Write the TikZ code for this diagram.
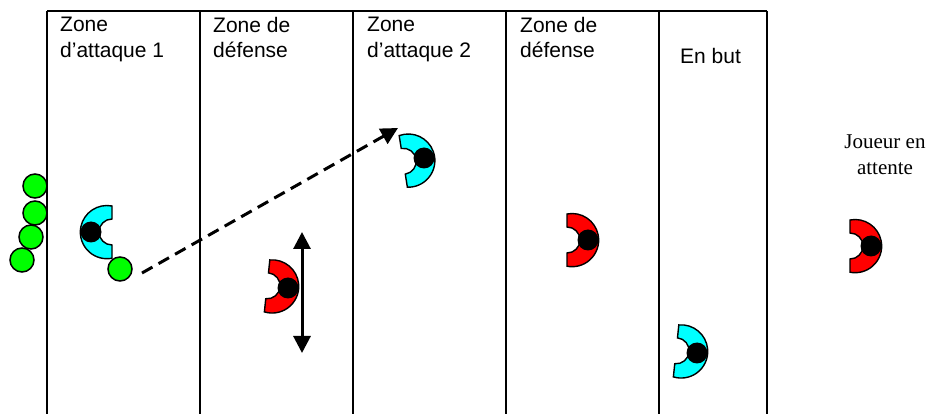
\documentclass[tikz,border=0pt]{standalone}
\usepackage{fontspec}
\setmainfont{Liberation Sans}
\newfontfamily\attente{Liberation Serif}
\usepackage{xcolor}
\usetikzlibrary{arrows.meta}
\definecolor{vert}{RGB}{0,255,0}
\definecolor{bleu}{RGB}{0,255,255}
\definecolor{rouge}{RGB}{255,0,0}
\tikzstyle{zone} = [anchor = north west, inner sep = 0, align = left, font = \fontsize{21}{25.5}\selectfont]
\tikzstyle{ballon} = [circle, draw, fill = vert, line width = 1.5pt, minimum size = 24pt, inner sep = 0]
\tikzstyle{tete} = [circle, fill = black, minimum size = 21pt, inner sep = 0]
\tikzstyle{bord} = [line width = 2.5pt]
\tikzstyle{passe} = [line width = 3pt, dash pattern = on 12pt off 7pt, -{Triangle[length = 17pt, width = 17pt]}]
\tikzstyle{depl} = [line width = 3pt, {Triangle[length = 17pt, width = 17pt]}-{Triangle[length = 17pt, width = 17pt]}]
\tikzset{pics/joueur/.style = {code = {
        \draw[fill = #1, line width = 1.4pt] (-21,26) arc[start angle = 101, end angle = -101, radius = 26.6pt]
            -- (-21,-13) arc[start angle = -90, end angle = 90, radius = 13pt] -- cycle;
        \node (-tete) [tete] at (0,0) {};
}}}

\begin{document}
\begin{tikzpicture}[x = 1pt, y = 1pt]
        \useasboundingbox (0,-414) rectangle (930,0);
        % terrain
        \coordinate (HG) at (47,-11);
        \coordinate (HD) at (767,-11);
        \draw[bord] (HG) -- (HD);
        \foreach \x in {47,200,353,506,659,767} {
            \draw[bord] (\x,-11) -- (\x,-414);
        }
        % zones
        \node (Z1) [zone] at (60,-17) {Zone\\d’attaque 1};
        \node (Z2) [zone] at (213,-17) {Zone de\\défense};
        \node (Z3) [zone] at (367,-17) {Zone\\d’attaque 2};
        \node (Z4) [zone] at (520,-17) {Zone de\\défense};
        \node (Z5) [zone] at (680,-48) {En but};
        \node (AT) [align = center, font = \attente\fontsize{21}{25.5}\selectfont] at (885,-154.5) {Joueur en\\attente};
        % ballons
        \node (B1) [ballon] at (35,-186) {};
        \node (B2) [ballon] at (35,-213) {};
        \node (B3) [ballon] at (31,-237) {};
        \node (B4) [ballon] at (22,-260) {};
        \node (B5) [ballon] at (120,-269) {};
        % joueurs
        \pic (J1) [xscale = -1] at (91,-232) {joueur = bleu};
        \pic (J2) [rotate = 9] at (424,-158) {joueur = bleu};
        \pic (J3) [rotate = -6] at (288,-288) {joueur = rouge};
        \pic (J4) at (588,-240) {joueur = rouge};
        \pic (J5) [rotate = -6] at (697,-353) {joueur = bleu};
        \pic (J6) at (871,-246) {joueur = rouge};
        % deplacements
        \coordinate (P1) at (142,-273);
        \coordinate (P2) at (398,-128);
        \coordinate (D1) at (302,-232);
        \coordinate (D2) at (302,-353);
        \draw[passe] (P1) -- (P2);
        \draw[depl] (D1) -- (D2);
    \end{tikzpicture}
\end{document}
